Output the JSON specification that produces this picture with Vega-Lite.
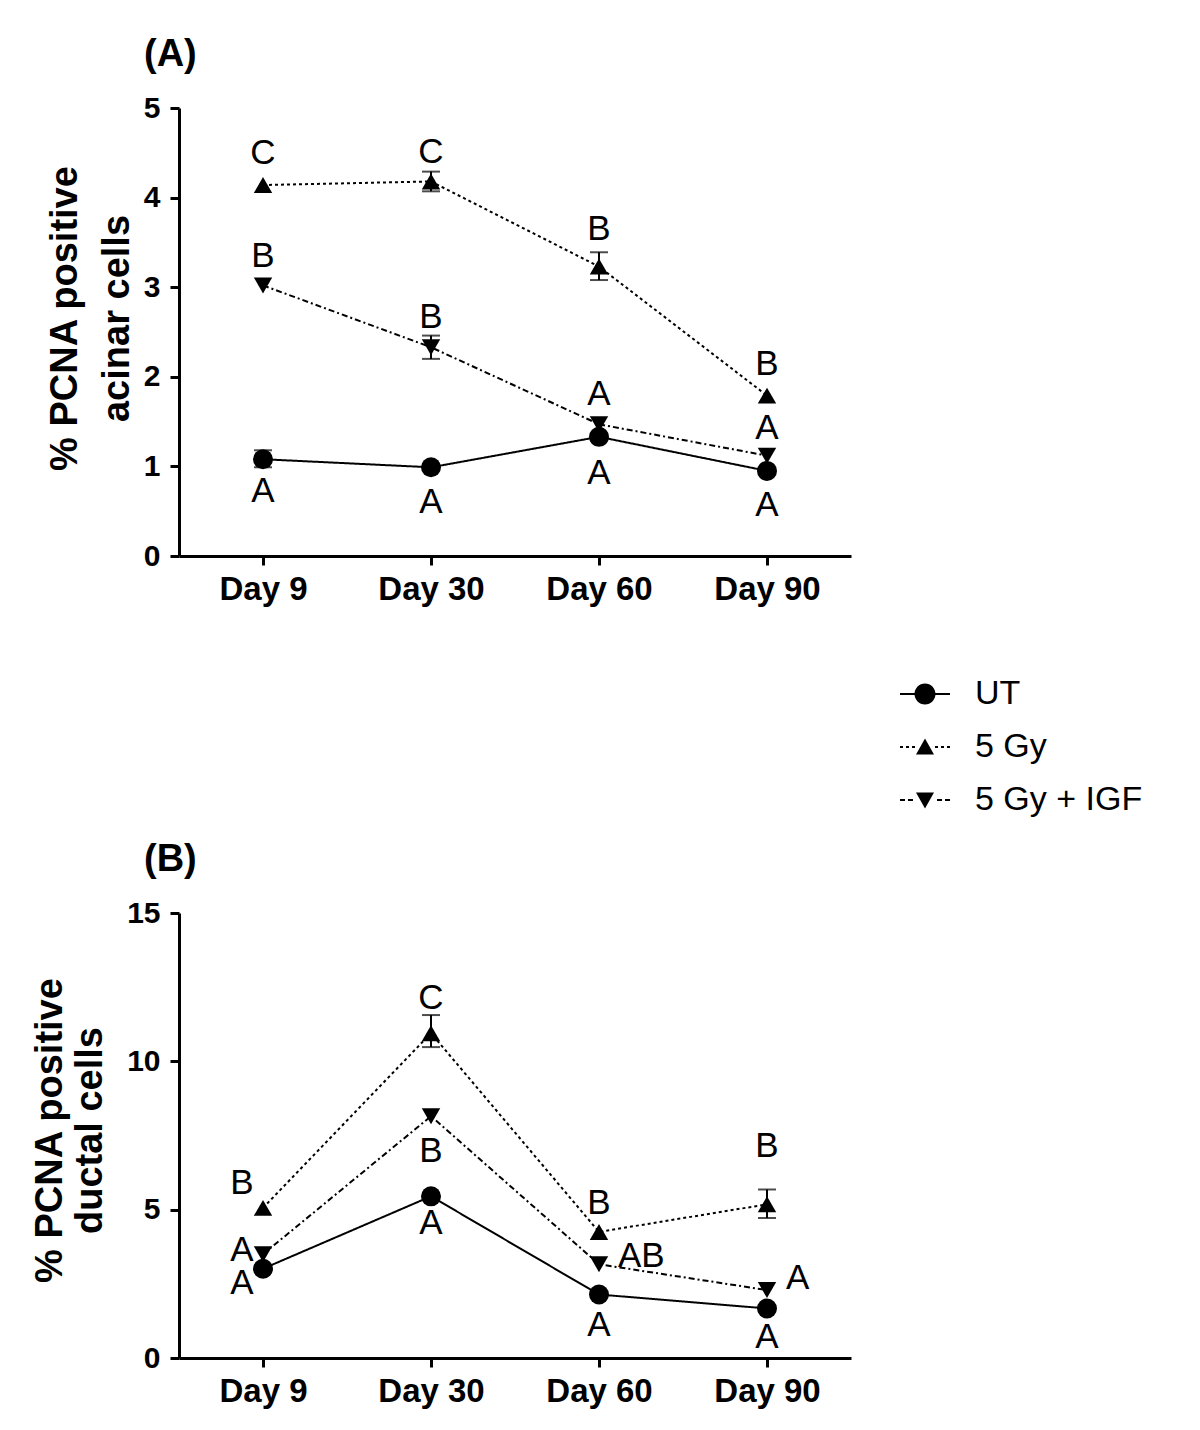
{
  "$schema": "https://vega.github.io/schema/vega-lite/v6.json",
  "padding": {"left": 30, "top": 36, "right": 5, "bottom": 5},
  "background": "white",
  "datasets": {
    "a": [
      {"day": "Day 9", "group": "UT", "mean": 1.08, "lo": 0.99, "hi": 1.18},
      {"day": "Day 30", "group": "UT", "mean": 0.99, "lo": null, "hi": null},
      {"day": "Day 60", "group": "UT", "mean": 1.33, "lo": null, "hi": null},
      {"day": "Day 90", "group": "UT", "mean": 0.95, "lo": null, "hi": null},
      {"day": "Day 9", "group": "5 Gy", "mean": 4.14, "lo": null, "hi": null},
      {"day": "Day 30", "group": "5 Gy", "mean": 4.18, "lo": 4.07, "hi": 4.29},
      {"day": "Day 60", "group": "5 Gy", "mean": 3.23, "lo": 3.08, "hi": 3.39},
      {"day": "Day 90", "group": "5 Gy", "mean": 1.79, "lo": null, "hi": null},
      {"day": "Day 9", "group": "5 Gy + IGF", "mean": 3.02, "lo": null, "hi": null},
      {"day": "Day 30", "group": "5 Gy + IGF", "mean": 2.33, "lo": 2.2, "hi": 2.46},
      {"day": "Day 60", "group": "5 Gy + IGF", "mean": 1.47, "lo": null, "hi": null},
      {"day": "Day 90", "group": "5 Gy + IGF", "mean": 1.12, "lo": null, "hi": null}
    ],
    "b": [
      {"day": "Day 9", "group": "UT", "mean": 3.01, "lo": null, "hi": null},
      {"day": "Day 30", "group": "UT", "mean": 5.45, "lo": null, "hi": null},
      {"day": "Day 60", "group": "UT", "mean": 2.14, "lo": null, "hi": null},
      {"day": "Day 90", "group": "UT", "mean": 1.67, "lo": null, "hi": null},
      {"day": "Day 9", "group": "5 Gy", "mean": 5.06, "lo": null, "hi": null},
      {"day": "Day 30", "group": "5 Gy", "mean": 10.95, "lo": 10.48, "hi": 11.56},
      {"day": "Day 60", "group": "5 Gy", "mean": 4.25, "lo": null, "hi": null},
      {"day": "Day 90", "group": "5 Gy", "mean": 5.18, "lo": 4.72, "hi": 5.68},
      {"day": "Day 9", "group": "5 Gy + IGF", "mean": 3.5, "lo": null, "hi": null},
      {"day": "Day 30", "group": "5 Gy + IGF", "mean": 8.15, "lo": null, "hi": null},
      {"day": "Day 60", "group": "5 Gy + IGF", "mean": 3.16, "lo": null, "hi": null},
      {"day": "Day 90", "group": "5 Gy + IGF", "mean": 2.29, "lo": null, "hi": null}
    ],
    "la": [
      {"day": "Day 9", "letter": "C", "y": 4.5, "side": "center"},
      {"day": "Day 9", "letter": "B", "y": 3.35, "side": "center"},
      {"day": "Day 9", "letter": "A", "y": 0.72, "side": "center"},
      {"day": "Day 30", "letter": "C", "y": 4.51, "side": "center"},
      {"day": "Day 30", "letter": "B", "y": 2.67, "side": "center"},
      {"day": "Day 30", "letter": "A", "y": 0.6, "side": "center"},
      {"day": "Day 60", "letter": "B", "y": 3.65, "side": "center"},
      {"day": "Day 60", "letter": "A", "y": 1.81, "side": "center"},
      {"day": "Day 60", "letter": "A", "y": 0.93, "side": "center"},
      {"day": "Day 90", "letter": "B", "y": 2.14, "side": "center"},
      {"day": "Day 90", "letter": "A", "y": 1.43, "side": "center"},
      {"day": "Day 90", "letter": "A", "y": 0.57, "side": "center"}
    ],
    "lb": [
      {"day": "Day 9", "letter": "B", "y": 5.9, "side": "left"},
      {"day": "Day 9", "letter": "A", "y": 3.63, "side": "left"},
      {"day": "Day 9", "letter": "A", "y": 2.52, "side": "left"},
      {"day": "Day 30", "letter": "C", "y": 12.12, "side": "center"},
      {"day": "Day 30", "letter": "B", "y": 6.98, "side": "center"},
      {"day": "Day 30", "letter": "A", "y": 4.56, "side": "center"},
      {"day": "Day 60", "letter": "B", "y": 5.24, "side": "center"},
      {"day": "Day 60", "letter": "AB", "y": 3.44, "side": "right"},
      {"day": "Day 60", "letter": "A", "y": 1.1, "side": "center"},
      {"day": "Day 90", "letter": "B", "y": 7.16, "side": "center"},
      {"day": "Day 90", "letter": "A", "y": 2.7, "side": "right"},
      {"day": "Day 90", "letter": "A", "y": 0.7, "side": "center"}
    ]
  },
  "vconcat": [
    {
      "width": 672,
      "height": 448,
      "title": {"text": "(A)", "anchor": "start", "frame": "group", "dx": -35, "offset": 19, "fontSize": 38, "fontWeight": "bold", "font": "Liberation Sans", "color": "black"},
      "data": {"name": "a"},
      "encoding": {
        "x": {"field": "day", "type": "nominal", "sort": ["Day 9", "Day 30", "Day 60", "Day 90"],
              "scale": {"type": "point", "padding": 0.5},
              "axis": {"title": null, "labelAngle": 0, "labelPadding": 8, "labelFontSize": 33}}
      },
      "layer": [
        {
          "mark": {"type": "line", "color": "black", "strokeWidth": 2},
          "encoding": {
            "y": {"field": "mean", "type": "quantitative",
                  "scale": {"domain": [0, 5], "nice": false},
                  "axis": {"title": ["% PCNA positive", "acinar cells"], "values": [0, 1, 2, 3, 4, 5], "format": "d", "labelPadding": 10,
                           "titleX": -103, "titleY": 210, "titleBaseline": "alphabetic", "titleLineHeight": 52}},
            "strokeDash": {"field": "group", "type": "nominal",
                           "scale": {"domain": ["UT", "5 Gy", "5 Gy + IGF"], "range": [[1, 0], [3, 3], [6, 3, 2, 3]]},
                           "legend": null}
          }
        },
        {
          "transform": [{"filter": "datum.lo != null"}],
          "mark": {"type": "rule", "color": "black", "strokeWidth": 2},
          "encoding": {"y": {"field": "lo", "type": "quantitative"}, "y2": {"field": "hi"}}
        },
        {
          "transform": [{"filter": "datum.lo != null"}],
          "mark": {"type": "tick", "color": "black", "size": 18, "thickness": 2},
          "encoding": {"y": {"field": "lo", "type": "quantitative"}}
        },
        {
          "transform": [{"filter": "datum.hi != null"}],
          "mark": {"type": "tick", "color": "black", "size": 18, "thickness": 2},
          "encoding": {"y": {"field": "hi", "type": "quantitative"}}
        },
        {
          "transform": [{"filter": "datum.group === 'UT'"}],
          "mark": {"type": "point", "shape": "circle", "filled": true, "color": "black", "size": 400, "opacity": 1},
          "encoding": {"y": {"field": "mean", "type": "quantitative"}}
        },
        {
          "transform": [{"filter": "datum.group === '5 Gy'"}],
          "mark": {"type": "point", "shape": "triangle-up", "filled": true, "color": "black", "size": 340, "opacity": 1},
          "encoding": {"y": {"field": "mean", "type": "quantitative"}}
        },
        {
          "transform": [{"filter": "datum.group === '5 Gy + IGF'"}],
          "mark": {"type": "point", "shape": "triangle-down", "filled": true, "color": "black", "size": 340, "opacity": 1},
          "encoding": {"y": {"field": "mean", "type": "quantitative"}}
        },
        {
          "transform": [{"filter": "datum.group === 'legend only'"}],
          "mark": {"type": "point", "filled": true, "color": "black", "size": 400, "opacity": 1},
          "encoding": {
            "y": {"field": "mean", "type": "quantitative"},
            "shape": {"field": "group", "type": "nominal",
                      "scale": {"domain": ["UT", "5 Gy", "5 Gy + IGF"],
                                "range": ["M-2.5,-0.1L-0.9,-0.1L-0.9,0.1L-2.5,0.1ZM0.9,-0.1L2.5,-0.1L2.5,0.1L0.9,0.1ZM1.05,0A1.05,1.05,0,1,1,-1.05,0A1.05,1.05,0,1,1,1.05,0Z",
                                          "M-2.5,-0.09L-2.2,-0.09L-2.2,0.09L-2.5,0.09ZM-1.9,-0.09L-1.6,-0.09L-1.6,0.09L-1.9,0.09ZM-1.3,-0.09L-1,-0.09L-1,0.09L-1.3,0.09ZM1,-0.09L1.3,-0.09L1.3,0.09L1,0.09ZM1.6,-0.09L1.9,-0.09L1.9,0.09L1.6,0.09ZM2.2,-0.09L2.5,-0.09L2.5,0.09L2.2,0.09ZM0,-0.85L0.9,0.75L-0.9,0.75Z",
                                          "M-2.5,-0.09L-2,-0.09L-2,0.09L-2.5,0.09ZM-1.7,-0.09L-1.2,-0.09L-1.2,0.09L-1.7,0.09ZM1.2,-0.09L1.7,-0.09L1.7,0.09L1.2,0.09ZM2,-0.09L2.5,-0.09L2.5,0.09L2,0.09ZM0,0.85L0.9,-0.75L-0.9,-0.75Z"]},
                      "legend": {"orient": "none", "legendX": 729, "legendY": 569, "title": null,
                                 "symbolSize": 400, "symbolOpacity": 1, "symbolFillColor": "black", "symbolStrokeColor": "black", "symbolStrokeWidth": 0,
                                 "labelFont": "Liberation Sans", "labelFontSize": 34, "labelFontWeight": "normal", "labelColor": "black", "labelLimit": 400,
                                 "labelOffset": 33, "rowPadding": 19, "padding": 0}}
          }
        },
        {
          "data": {"name": "la"},
          "transform": [{"filter": "datum.side === 'center'"}],
          "mark": {"type": "text", "font": "Liberation Sans", "fontSize": 35, "color": "black", "align": "center", "baseline": "middle"},
          "encoding": {"y": {"field": "y", "type": "quantitative"}, "text": {"field": "letter"}}
        }
      ]
    },
    {
      "width": 672,
      "height": 445,
      "title": {"text": "(B)", "anchor": "start", "frame": "group", "dx": -35, "offset": 19, "fontSize": 38, "fontWeight": "bold", "font": "Liberation Sans", "color": "black"},
      "data": {"name": "b"},
      "encoding": {
        "x": {"field": "day", "type": "nominal", "sort": ["Day 9", "Day 30", "Day 60", "Day 90"],
              "scale": {"type": "point", "padding": 0.5},
              "axis": {"title": null, "labelAngle": 0, "labelPadding": 8, "labelFontSize": 33}}
      },
      "layer": [
        {
          "mark": {"type": "line", "color": "black", "strokeWidth": 2},
          "encoding": {
            "y": {"field": "mean", "type": "quantitative",
                  "scale": {"domain": [0, 15], "nice": false},
                  "axis": {"title": ["% PCNA positive", "ductal cells"], "values": [0, 5, 10, 15], "format": "d", "labelPadding": 10,
                           "titleX": -118, "titleY": 217, "titleBaseline": "alphabetic", "titleLineHeight": 40}},
            "strokeDash": {"field": "group", "type": "nominal",
                           "scale": {"domain": ["UT", "5 Gy", "5 Gy + IGF"], "range": [[1, 0], [3, 3], [6, 3, 2, 3]]},
                           "legend": null}
          }
        },
        {
          "transform": [{"filter": "datum.lo != null"}],
          "mark": {"type": "rule", "color": "black", "strokeWidth": 2},
          "encoding": {"y": {"field": "lo", "type": "quantitative"}, "y2": {"field": "hi"}}
        },
        {
          "transform": [{"filter": "datum.lo != null"}],
          "mark": {"type": "tick", "color": "black", "size": 18, "thickness": 2},
          "encoding": {"y": {"field": "lo", "type": "quantitative"}}
        },
        {
          "transform": [{"filter": "datum.hi != null"}],
          "mark": {"type": "tick", "color": "black", "size": 18, "thickness": 2},
          "encoding": {"y": {"field": "hi", "type": "quantitative"}}
        },
        {
          "transform": [{"filter": "datum.group === 'UT'"}],
          "mark": {"type": "point", "shape": "circle", "filled": true, "color": "black", "size": 400, "opacity": 1},
          "encoding": {"y": {"field": "mean", "type": "quantitative"}}
        },
        {
          "transform": [{"filter": "datum.group === '5 Gy'"}],
          "mark": {"type": "point", "shape": "triangle-up", "filled": true, "color": "black", "size": 340, "opacity": 1},
          "encoding": {"y": {"field": "mean", "type": "quantitative"}}
        },
        {
          "transform": [{"filter": "datum.group === '5 Gy + IGF'"}],
          "mark": {"type": "point", "shape": "triangle-down", "filled": true, "color": "black", "size": 340, "opacity": 1},
          "encoding": {"y": {"field": "mean", "type": "quantitative"}}
        },
        {
          "data": {"name": "lb"},
          "transform": [{"filter": "datum.side === 'center'"}],
          "mark": {"type": "text", "font": "Liberation Sans", "fontSize": 35, "color": "black", "align": "center", "baseline": "middle"},
          "encoding": {"y": {"field": "y", "type": "quantitative"}, "text": {"field": "letter"}}
        },
        {
          "data": {"name": "lb"},
          "transform": [{"filter": "datum.side === 'left'"}],
          "mark": {"type": "text", "font": "Liberation Sans", "fontSize": 35, "color": "black", "align": "center", "baseline": "middle", "dx": -21},
          "encoding": {"y": {"field": "y", "type": "quantitative"}, "text": {"field": "letter"}}
        },
        {
          "data": {"name": "lb"},
          "transform": [{"filter": "datum.side === 'right'"}],
          "mark": {"type": "text", "font": "Liberation Sans", "fontSize": 35, "color": "black", "align": "left", "baseline": "middle", "dx": 19},
          "encoding": {"y": {"field": "y", "type": "quantitative"}, "text": {"field": "letter"}}
        }
      ]
    }
  ],
  "resolve": {"legend": {"shape": "independent"}},
  "bounds": "flush",
  "spacing": 357,
  "config": {
    "view": {"stroke": null},
    "font": "Liberation Sans",
    "axis": {
      "domainColor": "black", "domainWidth": 3, "tickColor": "black", "tickWidth": 3, "tickSize": 9,
      "labelColor": "black", "labelFont": "Liberation Sans", "labelFontSize": 30, "labelFontWeight": "bold",
      "grid": false, "titleColor": "black", "titleFont": "Liberation Sans", "titleFontSize": 38, "titleFontWeight": "bold"
    }
  }
}
